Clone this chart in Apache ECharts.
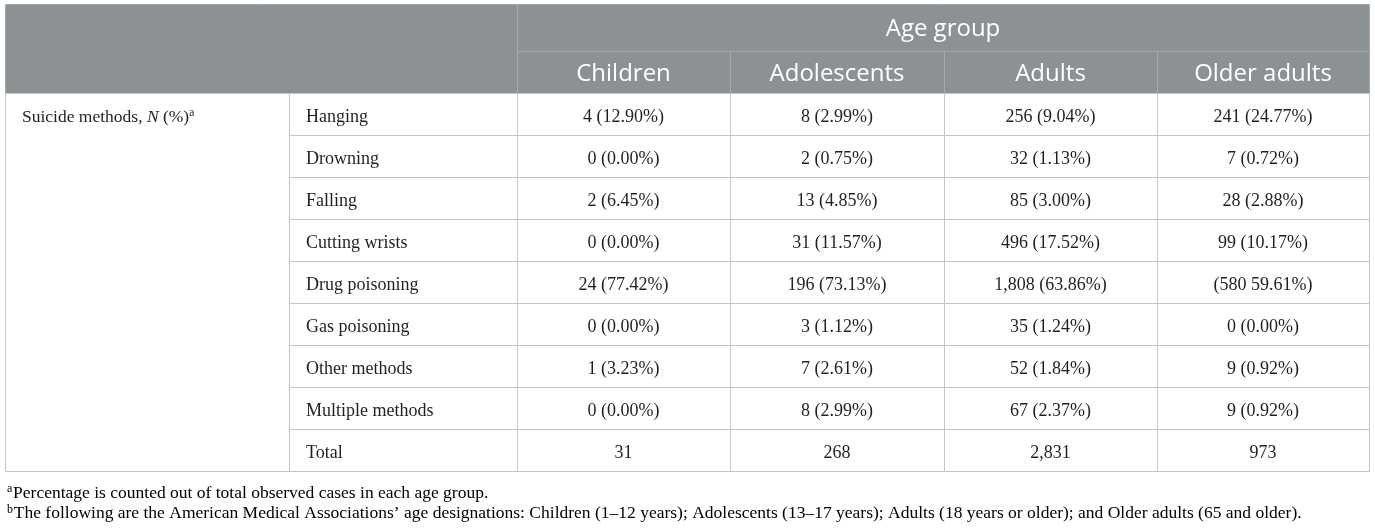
<!DOCTYPE html>
<html>
<head>
<meta charset="utf-8">
<script src="https://cdn.jsdelivr.net/npm/echarts@6/dist/echarts.min.js"></script>
<style>
  html, body { margin: 0; padding: 0; background: #fff; }
  #chart { width: 1375px; height: 529px; }
</style>
</head>
<body>
<div id="chart"></div>
<script>
// table content
const headerTitle = 'Age group';
const ageGroups = ['Children', 'Adolescents', 'Adults', 'Older adults'];
const methods = ['Hanging', 'Drowning', 'Falling', 'Cutting wrists', 'Drug poisoning',
  'Gas poisoning', 'Other methods', 'Multiple methods', 'Total'];
const children = ['4 (12.90%)', '0 (0.00%)', '2 (6.45%)', '0 (0.00%)', '24 (77.42%)',
  '0 (0.00%)', '1 (3.23%)', '0 (0.00%)', '31'];
const adolescents = ['8 (2.99%)', '2 (0.75%)', '13 (4.85%)', '31 (11.57%)', '196 (73.13%)',
  '3 (1.12%)', '7 (2.61%)', '8 (2.99%)', '268'];
const adults = ['256 (9.04%)', '32 (1.13%)', '85 (3.00%)', '496 (17.52%)', '1,808 (63.86%)',
  '35 (1.24%)', '52 (1.84%)', '67 (2.37%)', '2,831'];
const olderAdults = ['241 (24.77%)', '7 (0.72%)', '28 (2.88%)', '99 (10.17%)', '(580 59.61%)',
  '0 (0.00%)', '9 (0.92%)', '9 (0.92%)', '973'];
const footnotes = [
  ['a', 'Percentage is counted out of total observed cases in each age group.'],
  ['b', 'The following are the American Medical Associations\u2019 age designations: Children (1\u201312 years); Adolescents (13\u201317 years); Adults (18 years or older); and Older adults (65 and older).']
];

// layout (in the hidden axes' units, 1 unit = 1 px)
const colEdges = [5, 289, 517, 730, 944, 1157, 1369];
const headTop = 4, headMid = 51, headBottom = 93;
const rowH = 42;

const HEAD_BG = '#8c9294';
const HEAD_LINE = '#a6abac';
const BODY_LINE = '#c4c4c4';
const TEXT = '#231f20';
const SERIF = '"Liberation Serif", "DejaVu Serif", serif';
const SANS = '"Open Sans", "Noto Sans", sans-serif';

const valueCols = [children, adolescents, adults, olderAdults];

// build cell list
const cells = [];
cells.push({ x0: colEdges[0], x1: colEdges[2], y0: headTop, y1: headBottom, head: true, text: '' });
cells.push({ x0: colEdges[2], x1: colEdges[6], y0: headTop, y1: headMid, head: true, text: headerTitle, align: 'center' });
ageGroups.forEach((g, i) => {
  cells.push({ x0: colEdges[i + 2], x1: colEdges[i + 3], y0: headMid, y1: headBottom, head: true, text: g, align: 'center' });
});
const bodyBottom = headBottom + rowH * methods.length;
cells.push({ x0: colEdges[0], x1: colEdges[1], y0: headBottom, y1: bodyBottom, rowLabel: true,
  text: '{t|Suicide methods, }{i|N}{t| (%)}{s|a}', align: 'left', textY: headBottom + rowH / 2 });
methods.forEach((m, r) => {
  const y0 = headBottom + r * rowH;
  cells.push({ x0: colEdges[1], x1: colEdges[2], y0: y0, y1: y0 + rowH, text: m, align: 'left' });
  valueCols.forEach((col, c) => {
    cells.push({ x0: colEdges[c + 2], x1: colEdges[c + 3], y0: y0, y1: y0 + rowH, text: col[r], align: 'center' });
  });
});

const richBody = {
  t: { fontFamily: SERIF, fontSize: 17.5, color: TEXT, lineHeight: 20 },
  i: { fontFamily: SERIF, fontSize: 17.5, fontStyle: 'italic', color: TEXT, lineHeight: 20 },
  s: { fontFamily: SERIF, fontSize: 11.5, color: TEXT, lineHeight: 12, verticalAlign: 'top' }
};

function renderCell(params, api) {
  const cell = cells[api.value(4)];
  const p0 = api.coord([api.value(0), api.value(1)]);
  const p1 = api.coord([api.value(2), api.value(3)]);
  const x = Math.round(p0[0]) + 0.5, y = Math.round(p0[1]) + 0.5;
  const w = Math.round(p1[0]) - Math.round(p0[0]);
  const h = Math.round(p1[1]) - Math.round(p0[1]);
  const children = [{
    type: 'rect',
    shape: { x: x, y: y, width: w, height: h },
    style: { fill: cell.head ? HEAD_BG : '#fff', stroke: cell.head ? HEAD_LINE : BODY_LINE, lineWidth: 1 }
  }];
  if (cell.text) {
    const ty = cell.textY != null ? api.coord([0, cell.textY])[1] : (p0[1] + p1[1]) / 2;
    const tx = cell.align === 'center' ? (p0[0] + p1[0]) / 2 : p0[0] + 17;
    const style = cell.head
      ? { text: cell.text, fill: '#fff', font: '400 24px ' + SANS }
      : { text: cell.text, fill: TEXT, font: '18px ' + SERIF };
    if (cell.rowLabel) style.rich = richBody;
    style.x = tx;
    style.y = ty + (cell.head ? 2 : 3);
    style.align = cell.align;
    style.verticalAlign = 'middle';
    children.push({ type: 'text', style: style });
  }
  return { type: 'group', children: children };
}

const chart = echarts.init(document.getElementById('chart'), null, { renderer: 'canvas' });
chart.setOption({
  backgroundColor: '#fff',
  animation: false,
  grid: { left: 0, right: 0, top: 0, bottom: 0 },
  xAxis: { type: 'value', min: 0, max: 1375, show: false },
  yAxis: { type: 'value', min: 0, max: 529, inverse: true, show: false },
  tooltip: { show: false },
  series: [{
    type: 'custom',
    renderItem: renderCell,
    data: cells.map((c, i) => [c.x0, c.y0, c.x1, c.y1, i]),
    clip: false,
    silent: true
  }],
  graphic: footnotes.map((f, i) => ({
    type: 'text',
    left: 7,
    top: 483 + i * 20.5,
    style: {
      text: '{s|' + f[0] + '}{g| }{t|' + f[1] + '}',
      rich: {
        t: { fontFamily: SERIF, fontSize: 17.5, color: TEXT, lineHeight: 20 },
        g: { fontFamily: SERIF, fontSize: 3, lineHeight: 20 },
        s: { fontFamily: SERIF, fontSize: 12, color: TEXT, lineHeight: 12, verticalAlign: 'top' }
      }
    }
  }))
});
</script>
</body>
</html>
